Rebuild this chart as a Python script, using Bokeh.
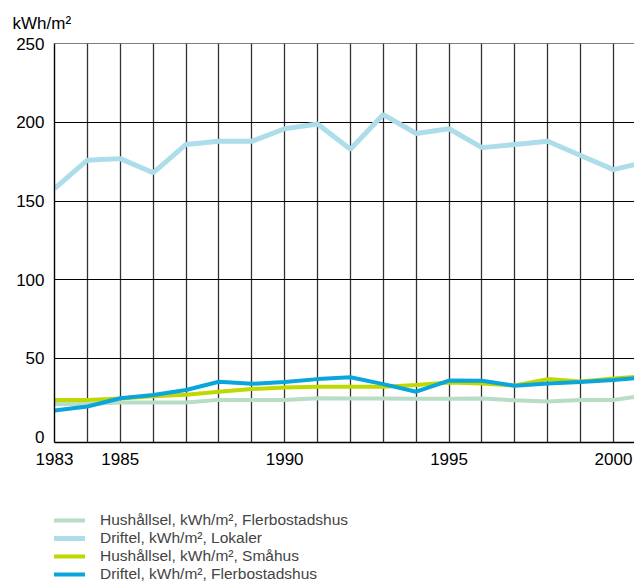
from bokeh.plotting import figure
from bokeh.models import Range1d, FixedTicker, Legend, LegendItem
from bokeh.layouts import column
from bokeh.embed import file_html
from bokeh.resources import INLINE

years = list(range(1983, 2002))
lokaler_drift = [158, 176, 177, 168, 186, 188, 188, 196, 199, 183, 205, 193, 196, 184, 186, 188, 179, 170, 175]
fler_hushall = [21, 21, 22, 22, 22, 23.6, 23.6, 23.6, 24.6, 24.4, 24.4, 24.3, 24.3, 24.4, 23.3, 22.5, 23.5, 23.5, 26.5]
smahus_hushall = [23.6, 23.6, 24.5, 25.9, 26.9, 28.8, 30.5, 31.5, 31.9, 31.9, 32, 33, 34.7, 34, 32.8, 36.8, 35.3, 37.2, 38.7]
fler_drift = [16.9, 19.4, 24.6, 26.7, 29.9, 35.1, 33.8, 34.9, 36.8, 38, 33.6, 28.8, 35.9, 35.7, 32.6, 34, 35, 36.2, 38]

x_ticks = [1983, 1985, 1990, 1995, 2000]
y_ticks = [0, 50, 100, 150, 200, 250]
y_grid = [50, 100, 150, 200, 250]

labels = [
    "Hushållsel, kWh/m², Flerbostadshus",
    "Driftel, kWh/m², Lokaler",
    "Hushållsel, kWh/m², Småhus",
    "Driftel, kWh/m², Flerbostadshus",
]
colors = ["#B8DCC4", "#ADDDEA", "#BFD800", "#0AA5DC"]
series = [fler_hushall, lokaler_drift, smahus_hushall, fler_drift]
widths = [4, 5, 4, 4]

FONT = "Liberation Sans"

p = figure(width=634, height=480, output_backend="svg", toolbar_location=None,
           x_range=Range1d(1983, 2000.64), y_range=Range1d(-3.5, 250.2),
           min_border_left=54, min_border_right=0, min_border_top=41, min_border_bottom=38)
p.outline_line_color = None
p.background_fill_color = "white"
p.border_fill_color = "white"

p.title.text = "kWh/m²"
p.title.align = "left"
p.title.offset = -42
p.title.text_font = FONT
p.title.text_font_size = "17px"
p.title.text_font_style = "normal"
p.title.text_color = "black"
p.title.standoff = 22

for ax in (p.xaxis[0], p.yaxis[0]):
    ax.major_tick_in = 0
    ax.major_tick_out = 0
    ax.minor_tick_in = 0
    ax.minor_tick_out = 0
    ax.axis_line_color = "black"
    ax.axis_line_width = 1.4
    ax.major_label_text_font = FONT
    ax.major_label_text_font_size = "17px"
    ax.major_label_text_color = "black"
    ax.major_label_standoff = 10

p.xaxis.ticker = FixedTicker(ticks=x_ticks)
p.yaxis.ticker = FixedTicker(ticks=y_ticks)

p.xgrid.ticker = FixedTicker(ticks=years)
p.xgrid.grid_line_color = "#333333"
p.xgrid.grid_line_width = 1.3
p.ygrid.ticker = FixedTicker(ticks=y_grid)
p.ygrid.grid_line_color = "black"
p.ygrid.grid_line_width = 1.1

for col, ser, w in zip(colors, series, widths):
    p.line(years, ser, line_color=col, line_width=w)

# legend panel: a second figure whose frame holds only the legend
p2 = figure(width=634, height=103, output_backend="svg", toolbar_location=None,
            x_axis_type=None, y_axis_type=None,
            x_range=Range1d(0, 1), y_range=Range1d(1000, 1001),
            min_border_left=0, min_border_right=0, min_border_top=0, min_border_bottom=0)
p2.outline_line_color = None
p2.xgrid.visible = False
p2.ygrid.visible = False
p2.background_fill_color = "white"
p2.border_fill_color = "white"

items = []
for lab, col, ser, w in zip(labels, colors, series, widths):
    r = p2.line(years, ser, line_color=col, line_width=w)
    items.append(LegendItem(label=lab, renderers=[r]))

legend = Legend(items=items, location=(-7, 0), orientation="vertical")
legend.margin = 0
legend.padding = 0
legend.spacing = 0
legend.border_line_color = None
legend.background_fill_alpha = 0
legend.label_text_font = FONT
legend.label_text_font_size = "15.5px"
legend.label_height = 18
legend.glyph_height = 18
legend.glyph_width = 38
legend.label_standoff = 15
p2.add_layout(legend, "center")

layout = column(p, p2, spacing=0)
open("out.html", "w").write(file_html(layout, INLINE))
